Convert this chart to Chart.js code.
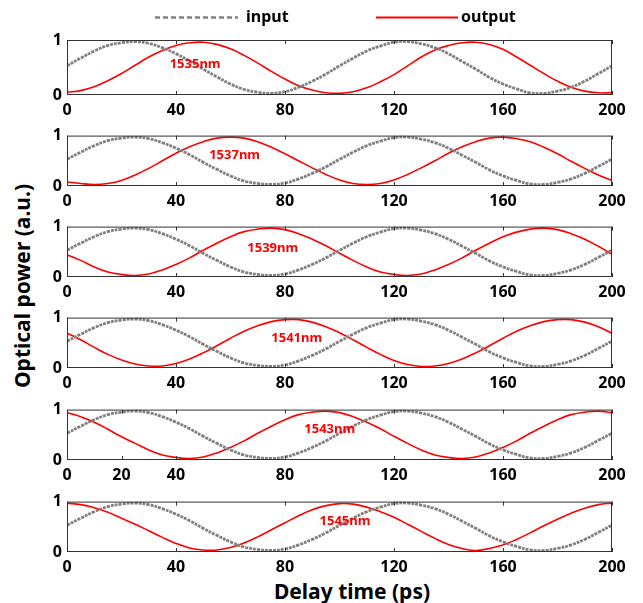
<!DOCTYPE html>
<html>
<head>
<meta charset="utf-8">
<script src="https://cdn.jsdelivr.net/npm/chart.js@4.4.0/dist/chart.umd.min.js"></script>
<style>
  body { margin: 0; background: #fff; }
  #wrap { position: relative; width: 643px; height: 603px; font-family: 'Noto Sans', sans-serif; }
  #wrap canvas { position: absolute; left: 0; }
  .title { position: absolute; font-weight: bold; font-size: 21px; color: #000; white-space: nowrap; transform: translate(-50%, -50%); }
  #ytitle { transform: translate(-50%, -50%) rotate(-90deg); }
</style>
</head>
<body>
<div id="wrap">
  <div class="title" id="xtitle" style="left:352px; top:591px;">Delay time (ps)</div>
  <div class="title" id="ytitle" style="left:22px; top:286px;">Optical power (a.u.)</div>
</div>
<script>
// delay axis, ps
const delayPs = [0, 5, 10, 15, 20, 25, 30, 35, 40, 45, 50, 55, 60, 65, 70, 75, 80, 85, 90, 95, 100,
  105, 110, 115, 120, 125, 130, 135, 140, 145, 150, 155, 160, 165, 170, 175, 180, 185, 190, 195, 200];

// normalised input trace (same in every panel)
const inputPower = [0.53, 0.67, 0.80, 0.90, 0.95, 0.97, 0.94, 0.86, 0.75, 0.62, 0.47, 0.33, 0.20, 0.10, 0.05, 0.03, 0.06, 0.14, 0.25, 0.38, 0.53,
  0.67, 0.80, 0.89, 0.96, 0.97, 0.93, 0.86, 0.75, 0.61, 0.47, 0.32, 0.20, 0.11, 0.04, 0.03, 0.07, 0.14, 0.25, 0.39, 0.53];

// output traces per wavelength
const out1535 = [0.05, 0.08, 0.15, 0.26, 0.39, 0.54, 0.69, 0.81, 0.90, 0.95, 0.96, 0.92, 0.84, 0.72, 0.58, 0.43, 0.29, 0.17, 0.09, 0.04, 0.03,
  0.06, 0.13, 0.24, 0.37, 0.53, 0.69, 0.82, 0.90, 0.95, 0.96, 0.92, 0.83, 0.69, 0.54, 0.39, 0.25, 0.14, 0.07, 0.04, 0.04];
const out1537 = [0.08, 0.05, 0.03, 0.05, 0.11, 0.22, 0.35, 0.50, 0.65, 0.78, 0.88, 0.95, 0.97, 0.95, 0.88, 0.77, 0.64, 0.50, 0.36, 0.23, 0.12,
  0.05, 0.03, 0.05, 0.12, 0.23, 0.36, 0.50, 0.65, 0.78, 0.88, 0.95, 0.97, 0.94, 0.88, 0.77, 0.64, 0.49, 0.35, 0.22, 0.11];
const out1539 = [0.44, 0.33, 0.20, 0.10, 0.05, 0.03, 0.06, 0.14, 0.25, 0.38, 0.53, 0.67, 0.80, 0.90, 0.95, 0.97, 0.94, 0.86, 0.75, 0.62, 0.47,
  0.33, 0.20, 0.10, 0.05, 0.03, 0.06, 0.14, 0.25, 0.38, 0.53, 0.67, 0.80, 0.89, 0.95, 0.97, 0.94, 0.86, 0.75, 0.61, 0.45];
const out1541 = [0.69, 0.56, 0.41, 0.27, 0.16, 0.08, 0.04, 0.04, 0.09, 0.18, 0.30, 0.44, 0.59, 0.73, 0.84, 0.92, 0.96, 0.96, 0.91, 0.82, 0.70,
  0.56, 0.41, 0.27, 0.15, 0.07, 0.03, 0.04, 0.09, 0.18, 0.30, 0.44, 0.59, 0.73, 0.84, 0.92, 0.96, 0.96, 0.91, 0.82, 0.69];
const out1543 = [0.94, 0.86, 0.75, 0.61, 0.46, 0.33, 0.20, 0.10, 0.05, 0.03, 0.06, 0.14, 0.25, 0.38, 0.53, 0.67, 0.80, 0.90, 0.95, 0.97, 0.94,
  0.86, 0.75, 0.62, 0.47, 0.33, 0.20, 0.10, 0.05, 0.03, 0.06, 0.14, 0.25, 0.38, 0.53, 0.67, 0.80, 0.90, 0.95, 0.97, 0.94];
const out1545 = [0.97, 0.94, 0.88, 0.79, 0.67, 0.55, 0.42, 0.29, 0.17, 0.08, 0.04, 0.04, 0.09, 0.18, 0.30, 0.44, 0.58, 0.72, 0.84, 0.92, 0.96,
  0.95, 0.89, 0.80, 0.69, 0.55, 0.41, 0.27, 0.15, 0.07, 0.03, 0.07, 0.14, 0.25, 0.38, 0.52, 0.65, 0.77, 0.87, 0.94, 0.97];

const wavelengths = ['1535nm', '1537nm', '1539nm', '1541nm', '1543nm', '1545nm'];
const outputPower = [out1535, out1537, out1539, out1541, out1543, out1545];

const xTicks = [0, 40, 80, 120, 160, 200];
const xTicksExtra = [0, 20, 40, 80, 120, 160, 200]; // fifth panel has an extra 20
const yTicks = [0, 1];

// where each wavelength tag sits, in data units (ps, a.u.)
const tagPos = [[47, 0.55], [61.5, 0.6], [75.5, 0.56], [84.3, 0.58], [96.4, 0.6], [102, 0.6]];

// layout
const PLOT_LEFT = 67, PLOT_RIGHT = 612, PANEL_H = 55, AXIS_H = 28;
const panelTop = [40, 131, 222, 313, 405, 497];
const GRAY = '#808080', RED = '#ff0000';
const tickFont = { family: 'Noto Sans', size: 16, weight: 'bold' };

const toXY = vals => vals.map((v, k) => ({ x: delayPs[k], y: v }));

// box around each panel, inward ticks and the wavelength tag
const panelFrame = {
  id: 'panelFrame',
  afterDatasetsDraw(chart, args, opts) {
    const { ctx, chartArea: a, scales } = chart;
    ctx.save();
    ctx.strokeStyle = '#333';
    ctx.lineWidth = 1;
    ctx.strokeRect(a.left + 0.5, a.top + 0.5, a.right - a.left - 1, a.bottom - a.top - 1);
    ctx.beginPath();
    scales.x.ticks.forEach(t => {
      const px = Math.round(scales.x.getPixelForValue(t.value)) + 0.5;
      ctx.moveTo(px, a.top); ctx.lineTo(px, a.top + 4);
      ctx.moveTo(px, a.bottom); ctx.lineTo(px, a.bottom - 4);
    });
    ctx.stroke();
    if (opts.tag) {
      ctx.fillStyle = RED;
      ctx.font = 'bold 13px "Noto Sans"';
      ctx.textAlign = 'center';
      ctx.textBaseline = 'middle';
      ctx.fillText(opts.tag, scales.x.getPixelForValue(opts.at[0]), scales.y.getPixelForValue(opts.at[1]));
    }
    ctx.restore();
  }
};

// legend line above the first panel
const topLegend = {
  id: 'topLegend',
  afterDraw(chart) {
    const ctx = chart.ctx;
    const y = 17.5;
    ctx.save();
    ctx.lineWidth = 2.5;
    ctx.strokeStyle = GRAY;
    ctx.setLineDash([5, 3]);
    ctx.beginPath(); ctx.moveTo(155, y); ctx.lineTo(238, y); ctx.stroke();
    ctx.setLineDash([]);
    ctx.lineWidth = 2;
    ctx.strokeStyle = RED;
    ctx.beginPath(); ctx.moveTo(376, y); ctx.lineTo(458, y); ctx.stroke();
    ctx.fillStyle = '#000';
    ctx.font = 'bold 16px "Noto Sans"';
    ctx.textBaseline = 'middle';
    ctx.fillText('input', 246, y);
    ctx.fillText('output', 461, y);
    ctx.restore();
  }
};

const wrap = document.getElementById('wrap');

wavelengths.forEach((wl, i) => {
  const padTop = i === 0 ? 40 : 10;
  const cv = document.createElement('canvas');
  cv.width = 643;
  cv.height = padTop + PANEL_H + AXIS_H;
  cv.style.top = (panelTop[i] - padTop) + 'px';
  wrap.appendChild(cv);

  const ticksHere = i === 4 ? xTicksExtra : xTicks;

  new Chart(cv, {
    type: 'line',
    data: {
      datasets: [{
        label: 'input',
        data: toXY(inputPower),
        borderColor: GRAY,
        borderWidth: 2.8,
        borderDash: [3, 1],
        pointRadius: 0,
        tension: 0.4
      }, {
        label: 'output',
        data: toXY(outputPower[i]),
        borderColor: RED,
        borderWidth: 1.6,
        pointRadius: 0,
        tension: 0.4
      }]
    },
    options: {
      responsive: false,
      animation: false,
      events: [],
      layout: { padding: { top: padTop, right: 643 - PLOT_RIGHT, left: 0, bottom: 0 } },
      plugins: {
        legend: { display: false },
        tooltip: { enabled: false },
        panelFrame: { tag: wl, at: tagPos[i] }
      },
      scales: {
        x: {
          type: 'linear',
          min: 0,
          max: 200,
          afterBuildTicks: s => { s.ticks = ticksHere.map(v => ({ value: v })); },
          afterFit: s => { s.height = AXIS_H; },
          grid: { display: false, drawTicks: false },
          border: { display: false },
          ticks: { font: tickFont, color: '#000', padding: 6, maxRotation: 0, autoSkip: false }
        },
        y: {
          min: 0,
          max: 1,
          afterBuildTicks: s => { s.ticks = yTicks.map(v => ({ value: v })); },
          afterFit: s => { s.width = PLOT_LEFT; },
          grid: { display: false, drawTicks: false },
          border: { display: false },
          ticks: { font: tickFont, color: '#000', padding: 5 }
        }
      }
    },
    plugins: i === 0 ? [panelFrame, topLegend] : [panelFrame]
  });
});
</script>
</body>
</html>
